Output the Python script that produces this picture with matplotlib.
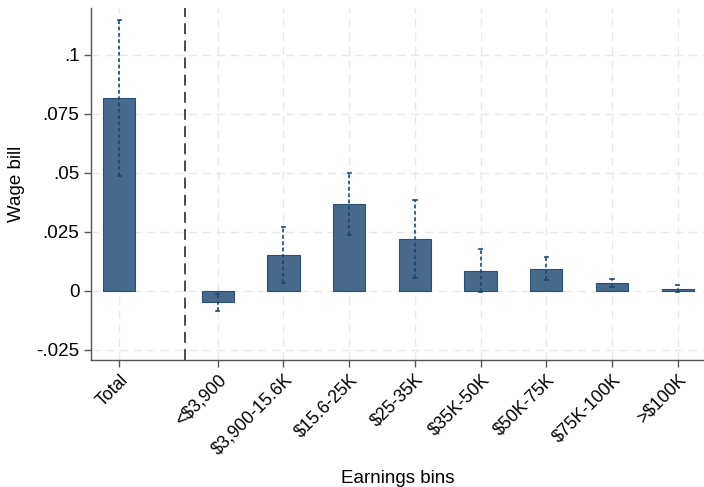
import matplotlib
matplotlib.use("Agg")
from matplotlib import pyplot as plt
import numpy as np

plt.rcParams['font.family'] = ['Liberation Sans', 'DejaVu Sans']

# estimates and 95% CI bounds, by earnings bin
labels = ["Total", "<$3,900", "$3,900-15.6K", "$15.6-25K", "$25-35K",
          "$35K-50K", "$50K-75K", "$75K-100K", ">$100K"]
coef = [0.0815, -0.0049, 0.0150, 0.0367, 0.0218, 0.0085, 0.0092, 0.0033, 0.0008]
ci_lo = [0.0487, -0.0086, 0.0034, 0.0235, 0.0053, -0.0007, 0.0045, 0.0017, -0.0004]
ci_hi = [0.1147, -0.0014, 0.0269, 0.0500, 0.0383, 0.0178, 0.0144, 0.0050, 0.0024]
pos = [0] + [1.5 + i for i in range(8)]

yticks = [-0.025, 0, 0.025, 0.05, 0.075, 0.1]
ytick_labels = ["-.025", "0", ".025", ".05", ".075", ".1"]

bar_color = "#476a8c"
edge_color = "#2c5073"
ci_color = "#1a476f"

fig = plt.figure(figsize=(7.04, 4.87), dpi=100)
ax = fig.add_axes([0.1287, 0.2608, 0.8713, 0.7228])

ax.bar(pos, coef, width=0.49, color=bar_color, edgecolor=edge_color,
       linewidth=0.8, zorder=3)

for x, lo, hi in zip(pos, ci_lo, ci_hi):
    ax.plot([x, x], [lo, hi], color=ci_color, lw=1.2,
            linestyle=(0, (2.2, 1.6)), zorder=4)
    for y in (lo, hi):
        ax.plot([x - 0.025, x + 0.025], [y, y], color=ci_color, lw=1.2, zorder=4)

ax.axvline(1.0, color="#3c3c3c", lw=1.3, linestyle=(0, (6, 3.5)), zorder=2)

ax.set_xlim(-0.435, 8.9)
ax.set_ylim(-0.0294, 0.1198)
ax.set_xticks(pos)
ax.set_xticklabels(labels, rotation=45, ha="right", rotation_mode="anchor",
                   fontsize=12.7)
ax.set_yticks(yticks)
ax.set_yticklabels(ytick_labels, fontsize=13.5)

ax.grid(True, color="#e8e8e8", linestyle=(0, (6, 4)), lw=1.0, zorder=0)
ax.set_axisbelow(True)

for s in ("top", "right"):
    ax.spines[s].set_visible(False)
for s in ("left", "bottom"):
    ax.spines[s].set_color("#555555")
    ax.spines[s].set_linewidth(1.0)
ax.tick_params(color="#555555", length=5, width=1.0, pad=3)

ax.set_ylabel("Wage bill", fontsize=13.5, labelpad=8)
ax.set_xlabel("Earnings bins", fontsize=13.5)
ax.xaxis.set_label_coords(0.5, -0.312)

fig.savefig("out.png", dpi=100)
